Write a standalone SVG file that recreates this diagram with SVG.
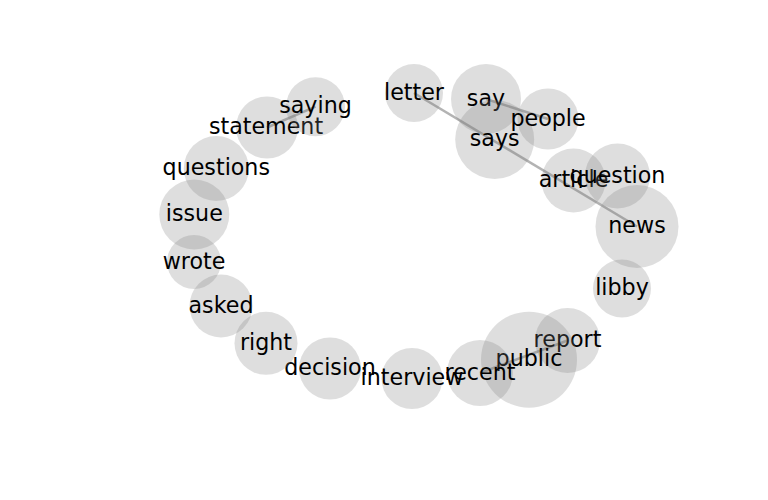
<svg xmlns="http://www.w3.org/2000/svg" width="768" height="500" viewBox="0 0 768 500">
<style>
.n circle{fill:#808080;fill-opacity:0.26;stroke:none}
.n text{font-family:"DejaVu Sans",sans-serif;font-size:22.2px;fill:#000;text-anchor:middle}
#edges line{stroke:#808080;stroke-opacity:0.6;stroke-width:2.5}
</style>
<rect width="768" height="500" fill="#fff"/>
<g id="edges">
<line x1="414" y1="93" x2="637" y2="226.5"/>
<line x1="486" y1="99" x2="548" y2="119"/>
<line x1="267" y1="127.5" x2="315.5" y2="106.7"/>
<line x1="480" y1="373" x2="567.5" y2="340.5"/>
</g>
<g id="letter" class="n"><circle cx="414" cy="93" r="29"/><text x="414" y="99.5">letter</text></g>
<g id="say" class="n"><circle cx="486" cy="99" r="35"/><text x="486" y="105.5">say</text></g>
<g id="says" class="n"><circle cx="494.7" cy="139.5" r="39.5"/><text x="494.7" y="146">says</text></g>
<g id="people" class="n"><circle cx="548" cy="119" r="30.5"/><text x="548" y="125.5">people</text></g>
<g id="article" class="n"><circle cx="573.5" cy="180.5" r="32"/><text x="573.5" y="187">article</text></g>
<g id="question" class="n"><circle cx="617.5" cy="176" r="32.5"/><text x="617.5" y="182.5">question</text></g>
<g id="news" class="n"><circle cx="637" cy="226.5" r="41.5"/><text x="637" y="233">news</text></g>
<g id="libby" class="n"><circle cx="622" cy="288.5" r="29"/><text x="622" y="295">libby</text></g>
<g id="report" class="n"><circle cx="567.5" cy="340.5" r="32.5"/><text x="567.5" y="347">report</text></g>
<g id="public" class="n"><circle cx="529" cy="359.7" r="48"/><text x="529" y="366.2">public</text></g>
<g id="recent" class="n"><circle cx="480" cy="373" r="33"/><text x="480" y="379.5">recent</text></g>
<g id="interview" class="n"><circle cx="412" cy="378.5" r="30.5"/><text x="412" y="385">interview</text></g>
<g id="decision" class="n"><circle cx="330" cy="368.5" r="31"/><text x="330" y="375">decision</text></g>
<g id="right" class="n"><circle cx="266" cy="343.3" r="31.5"/><text x="266" y="349.8">right</text></g>
<g id="asked" class="n"><circle cx="221" cy="306" r="31.5"/><text x="221" y="312.5">asked</text></g>
<g id="wrote" class="n"><circle cx="194" cy="262" r="27"/><text x="194" y="268.5">wrote</text></g>
<g id="issue" class="n"><circle cx="194.3" cy="214.5" r="35"/><text x="194.3" y="221">issue</text></g>
<g id="questions" class="n"><circle cx="216.3" cy="168.5" r="32.5"/><text x="216.3" y="175">questions</text></g>
<g id="statement" class="n"><circle cx="267" cy="127.5" r="31"/><text x="266" y="134">statement</text></g>
<g id="saying" class="n"><circle cx="315.5" cy="106.7" r="29.5"/><text x="315.5" y="113.2">saying</text></g>
</svg>
